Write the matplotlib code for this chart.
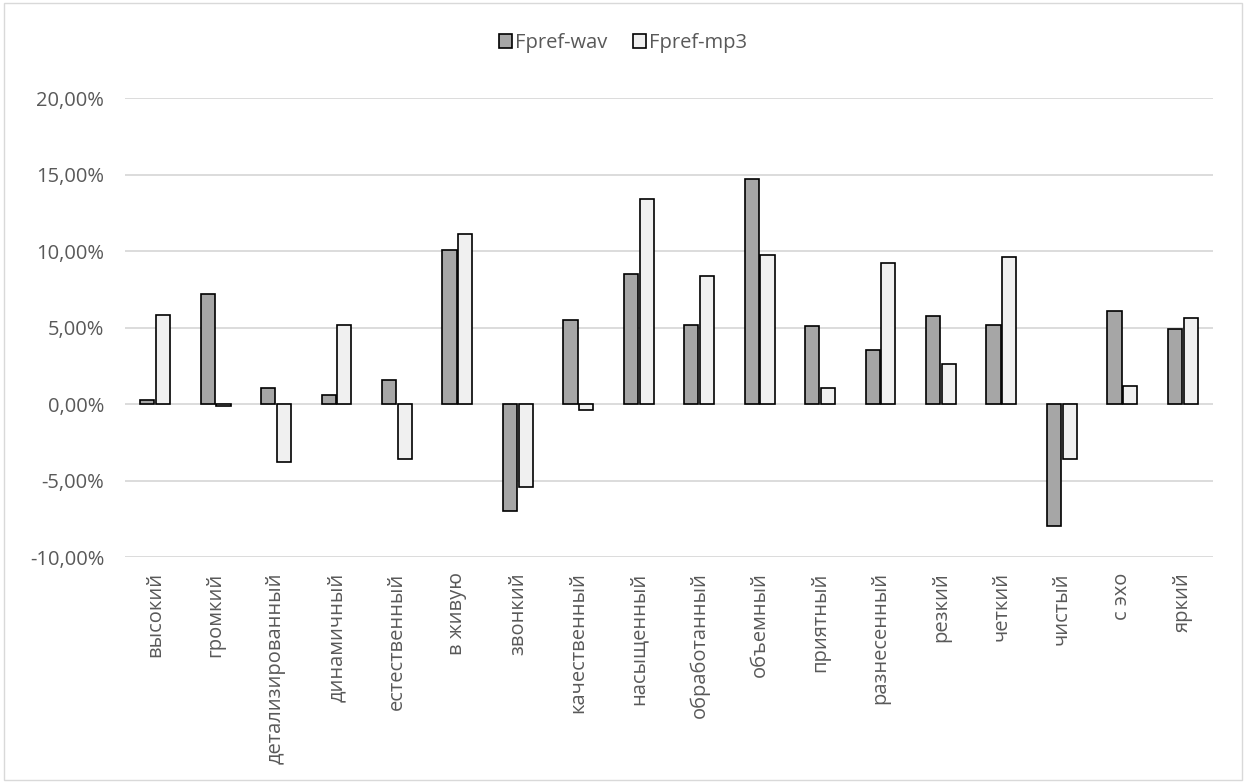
import numpy as np
import matplotlib.pyplot as plt
from matplotlib.ticker import FuncFormatter

plt.rcParams['font.family'] = ['Open Sans', 'DejaVu Sans']

categories = ["высокий", "громкий", "детализированный", "динамичный", "естественный",
              "в живую", "звонкий", "качественный", "насыщенный", "обработанный",
              "объемный", "приятный", "разнесенный", "резкий", "четкий", "чистый",
              "с эхо", "яркий"]
fpref_wav = [0.24, 7.19, 1.02, 0.61, 1.59, 10.04, -6.99, 5.51, 8.50, 5.19,
             14.68, 5.10, 3.51, 5.75, 5.16, -7.97, 6.06, 4.90]
fpref_mp3 = [5.84, -0.12, -3.81, 5.16, -3.62, 11.13, -5.42, -0.39, 13.42, 8.37,
             9.76, 1.07, 9.19, 2.61, 9.61, -3.62, 1.20, 5.64]

fig = plt.figure(figsize=(12.46, 7.83), dpi=100)
ax = fig.add_axes([0.1003, 0.2886, 0.8732, 0.5862])

x = np.arange(len(categories))
w = 0.235
ax.bar(x - 0.13, fpref_wav, w, color="#A6A6A6", edgecolor="black", lw=1.2,
       label="Fpref-wav", zorder=3)
ax.bar(x + 0.13, fpref_mp3, w, color="#F0F0F0", edgecolor="black", lw=1.2,
       label="Fpref-mp3", zorder=3)

ax.set_xlim(-0.5, len(categories) - 0.5)
ax.set_ylim(-10, 20)
ax.set_yticks(np.arange(-10, 21, 5))
ax.yaxis.set_major_formatter(FuncFormatter(lambda v, p: f"{v:.2f}%".replace(".", ",")))
ax.grid(axis="y", color="#D9D9D9", lw=1.3, zorder=0)
for s in ax.spines.values():
    s.set_visible(False)
ax.tick_params(length=0, labelsize=14.5, labelcolor="#595959")
ax.tick_params(axis="y", pad=15)
ax.tick_params(axis="x", pad=11)
ax.set_xticks(x)
ax.set_xticklabels(categories, rotation=90)

fig.legend(loc="center", bbox_to_anchor=(0.5, 0.945), ncol=2, frameon=False,
           fontsize=14.5, handlelength=0.65, handleheight=0.65, handletextpad=0.15,
           columnspacing=1.3, labelcolor="#595959")

fig.patches.append(plt.Rectangle((0.003, 0.004), 0.994, 0.992, transform=fig.transFigure,
                                 fill=False, edgecolor="#D9D9D9", lw=1))

fig.savefig("out.png", dpi=100)
